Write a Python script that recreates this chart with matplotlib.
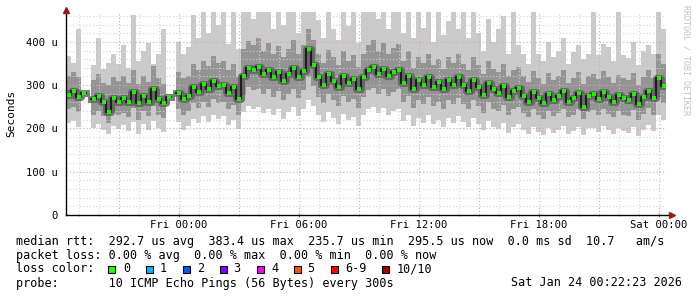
import numpy as np
import matplotlib
matplotlib.use("Agg")
import matplotlib.pyplot as plt
from matplotlib.patches import Rectangle
from matplotlib.lines import Line2D

plt.rcParams["font.family"] = ["DejaVu Sans Mono"]
plt.rcParams["font.size"] = 8.5

# --------------------------
# Data (RTT in microseconds, 15 min bins, hours from Fri 00:00)
# --------------------------
nan = np.nan
T_START = -5.627          # Thu 18:22:23
BIN_H = 0.25

rtt_median = [
    278, 286, 272, 283, nan, 268, 276, 262, 238, 271,
    262, 270, 262, 284, 258, 274, 262, 290, 268, 258,
    272, nan, 282, 268, 275, 296, 285, 302, 292, 310,
    298, 300, 282, 296, 268, 322, 340, 334, 342, 326,
    336, 318, 330, 310, 326, 340, 318, 332, 383, 346,
    318, 300, 326, 310, 296, 322, 305, 314, 292, 318,
    335, 342, 326, 338, 320, 330, 336, 305, 322, 290,
    312, 300, 318, 296, 308, 290, 312, 300, 318, 300,
    286, 312, 296, 278, 305, 290, 282, 298, 272, 286,
    294, 276, 262, 284, 270, 258, 280, 266, 274, 286,
    262, 270, 282, 250, 276, 280, 268, 284, 272, 262,
    278, 270, 266, 280, 256, 272, 286, 270, 316, 298,
]
rtt_q1 = [
    245, 250, 238, 252, nan, 232, 240, 228, 212, 236,
    230, 236, 226, 248, 220, 240, 228, 252, 232, 224,
    236, nan, 246, 232, 240, 258, 248, 262, 250, 268,
    258, 262, 244, 254, 232, 278, 296, 288, 292, 280,
    290, 272, 286, 266, 280, 292, 270, 288, 318, 298,
    272, 258, 280, 266, 252, 276, 262, 268, 248, 272,
    288, 294, 280, 290, 274, 284, 290, 262, 276, 248,
    266, 256, 272, 252, 262, 246, 266, 256, 270, 256,
    244, 266, 252, 236, 260, 246, 240, 254, 232, 244,
    250, 236, 226, 244, 232, 222, 240, 228, 236, 246,
    226, 232, 244, 222, 238, 242, 230, 246, 234, 226,
    240, 232, 228, 242, 220, 234, 248, 232, 272, 258,
]
rtt_q3 = [
    322, 330, 318, 334, nan, 312, 326, 306, 300, 318,
    310, 322, 304, 336, 302, 322, 308, 344, 316, 302,
    320, nan, 330, 316, 322, 348, 334, 356, 344, 368,
    352, 356, 334, 350, 318, 384, 402, 392, 410, 380,
    398, 372, 390, 364, 384, 404, 372, 392, 430, 404,
    372, 352, 382, 364, 346, 378, 356, 370, 342, 372,
    392, 404, 380, 398, 372, 386, 396, 356, 380, 340,
    366, 352, 372, 346, 360, 338, 366, 352, 372, 350,
    334, 364, 346, 326, 356, 338, 330, 348, 320, 334,
    342, 322, 308, 332, 316, 302, 328, 312, 320, 334,
    306, 316, 330, 302, 322, 326, 314, 332, 318, 306,
    324, 316, 312, 328, 300, 318, 334, 316, 372, 348,
]
rtt_min = [
    212, 218, 204, 222, nan, 200, 210, 196, 186, 206,
    198, 208, 194, 216, 188, 210, 196, 218, 200, 192,
    204, nan, 214, 196, 206, 222, 212, 228, 216, 232,
    222, 228, 208, 220, 198, 238, 252, 246, 250, 236,
    246, 230, 244, 222, 238, 250, 228, 244, 266, 252,
    230, 216, 238, 224, 210, 234, 220, 226, 206, 230,
    244, 250, 236, 248, 230, 240, 246, 218, 232, 206,
    224, 212, 230, 210, 220, 204, 224, 212, 228, 214,
    204, 224, 210, 196, 218, 204, 198, 212, 190, 204,
    210, 196, 186, 204, 192, 184, 200, 190, 196, 206,
    188, 194, 204, 184, 200, 202, 192, 206, 196, 188,
    200, 194, 190, 204, 182, 196, 208, 194, 232, 220,
]
rtt_max = [
    368, 352, 430, 358, nan, 346, 410, 338, 352, 372,
    348, 392, 340, 462, 356, 380, 398, 350, 372, 430,
    360, nan, 400, 372, 388, 462, 410, 470, 420, 470,
    440, 470, 396, 470, 384, 470, 470, 452, 470, 470,
    470, 430, 470, 440, 470, 470, 420, 470, 470, 470,
    450, 410, 470, 430, 404, 470, 436, 470, 398, 470,
    470, 470, 452, 470, 430, 470, 470, 420, 470, 410,
    470, 432, 470, 400, 470, 416, 448, 470, 430, 470,
    410, 470, 420, 380, 452, 400, 430, 460, 372, 470,
    392, 372, 350, 470, 372, 356, 400, 366, 380, 410,
    350, 376, 392, 360, 372, 470, 370, 396, 388, 356,
    470, 370, 362, 400, 346, 380, 392, 372, 470, 430,
]

tick_hours = [0, 6, 12, 18, 24]
tick_labels = ["Fri 00:00", "Fri 06:00", "Fri 12:00", "Fri 18:00", "Sat 00:00"]

loss_labels = ["0", "1", "2", "3", "4", "5", "6-9", "10/10"]
loss_colors = ["#26ff00", "#00b8ff", "#0059ff", "#7e00ff", "#ff00ff", "#ff5500", "#ff0000", "#a10000"]

legend_lines = [
    "median rtt:  292.7 us avg  383.4 us max  235.7 us min  295.5 us now  0.0 ms sd  10.7   am/s",
    "packet loss: 0.00 % avg  0.00 % max  0.00 % min  0.00 % now",
    "loss color:",
    "probe:       10 ICMP Echo Pings (56 Bytes) every 300s",
]
stamp = "Sat Jan 24 00:22:23 2026"

# --------------------------
# Figure
# --------------------------
W, H = 697, 297
fig = plt.figure(figsize=(W / 100, H / 100), dpi=100)
ax = fig.add_axes([66 / W, (H - 215) / H, 600 / W, 203 / H])

# step edges: one more edge than bins, last value repeated
t = T_START + BIN_H * np.arange(len(rtt_median) + 1)


def edges(vals):
    a = np.array(vals, dtype=float)
    return np.append(a, a[-1])


med = edges(rtt_median)
q1 = edges(rtt_q1)
q3 = edges(rtt_q3)
lo = edges(rtt_min)
hi = edges(rtt_max)

# smoke layers
ax.fill_between(t, lo, hi, step="post", color="#cacaca", linewidth=0, zorder=2)
ax.fill_between(t, q1, q3, step="post", color="#949494", linewidth=0, zorder=3)

# grid (rrdtool draws it over the smoke)
dot = (0, (1, 2))
for h in range(-5, 25):
    col = "#e8a0a0" if h % 3 == 0 else "#d2d2d2"
    ax.axvline(h, color=col, linestyle=dot, linewidth=0.8, zorder=4)
for v in range(20, 469, 20):
    col = "#e8a0a0" if v % 100 == 0 else "#d2d2d2"
    ax.axhline(v, color=col, linestyle=dot, linewidth=0.8, zorder=4)

# median: dark core + step line + points
ax.step(t, med, where="post", color="#5c5c5c", linewidth=5, zorder=5, alpha=0.8)
ax.step(t, med, where="post", color="#1e1e1e", linewidth=1.5, zorder=6)
ax.plot(t[:-1] + BIN_H / 2, med[:-1], linestyle="none", marker="s", markersize=2.4,
        color="#20f000", markeredgewidth=0, zorder=7)

ax.set_xlim(T_START, T_START + 30)
ax.set_ylim(0, 469)

ax.set_xticks(tick_hours)
ax.set_xticklabels(tick_labels, fontsize=7.6)
ax.set_xticks(range(-5, 25), minor=True)
ax.set_yticks([0, 100, 200, 300, 400])
ax.set_yticklabels(["0", "100 u", "200 u", "300 u", "400 u"], fontsize=7.6)
ax.tick_params(axis="x", which="major", length=3, direction="inout", color="#c06060", pad=2)
ax.tick_params(axis="x", which="minor", length=2, direction="inout", color="#999999")
ax.tick_params(axis="y", length=0, pad=6)

for s in ["top", "right", "left", "bottom"]:
    ax.spines[s].set_visible(False)

# axes with arrows
ax.add_line(Line2D([0, 1.008], [0, 0], transform=ax.transAxes, color="#000000",
                   linewidth=1, clip_on=False, zorder=8))
ax.add_line(Line2D([0, 0], [0, 1.01], transform=ax.transAxes, color="#000000",
                   linewidth=1, clip_on=False, zorder=8))
ax.plot([1.01], [0], marker=">", color="#9b1b1b", markersize=4, transform=ax.transAxes, clip_on=False, zorder=9)
ax.plot([0], [1.012], marker="^", color="#9b1b1b", markersize=4, transform=ax.transAxes, clip_on=False, zorder=9)

fig.text(11 / W, 1 - 113 / H, "Seconds", rotation=90, ha="center", va="center", fontsize=8)
fig.text(686 / W, 1 - 60 / H, "RRDTOOL / TOBI OETIKER", rotation=270, ha="center", va="center",
         fontsize=6, color="#c0c0c0")

# --------------------------
# Legend text
# --------------------------
rows_y = [241.5, 255, 269, 283]
for line, y in zip(legend_lines, rows_y):
    fig.text(16 / W, 1 - y / H, line, ha="left", va="center")
fig.text(682 / W, 1 - rows_y[3] / H, stamp, ha="right", va="center")

box_x = [108, 145.5, 182.5, 220, 256.5, 294, 331, 381.5]
lab_x = [123, 160, 197, 233, 271, 307, 345, 397]
for bx, lx, lab, col in zip(box_x, lab_x, loss_labels, loss_colors):
    fig.add_artist(Rectangle((bx / W, 1 - (rows_y[2] + 3.5) / H), 7 / W, 7 / H,
                             transform=fig.transFigure, facecolor=col, edgecolor="black", linewidth=0.8))
    fig.text(lx / W, 1 - rows_y[2] / H, lab, ha="left", va="center")

fig.savefig("out.png", dpi=100)
